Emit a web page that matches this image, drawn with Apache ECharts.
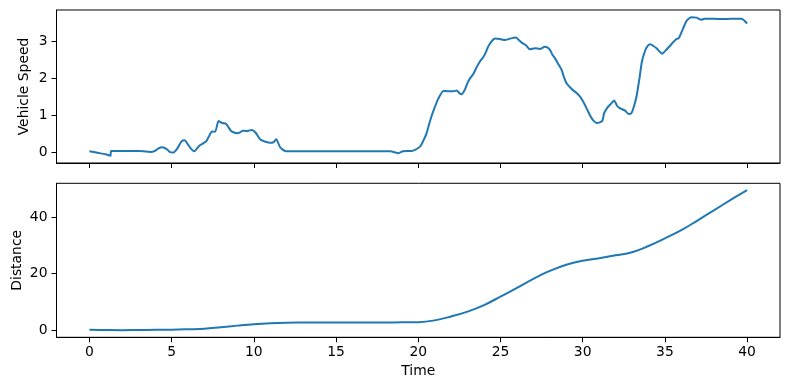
<!DOCTYPE html>
<html><head><meta charset="utf-8">
<script src="https://cdn.jsdelivr.net/npm/echarts@6/dist/echarts.min.js"></script>
<style>html,body{margin:0;padding:0;background:#fff}#c{width:790px;height:390px}</style>
</head><body><div id="c"></div>
<script>
const speedTime = [0,0.5,1.0,1.28,1.32,2.0,3.0,3.3,3.7,4.0,4.2,4.45,4.7,4.9,5.12,5.35,5.6,5.79,6.0,6.2,6.4,6.55,6.74,6.9,7.1,7.3,7.45,7.65,7.85,8.06,8.3,8.45,8.6,8.8,8.97,9.15,9.34,9.5,9.68,9.88,10.1,10.39,10.7,11.0,11.2,11.36,11.6,11.9,12.5,15,18.3,18.8,19.06,19.6,19.8,20.0,20.15,20.3,20.5,20.72,20.95,21.22,21.53,21.8,22.13,22.34,22.5,22.64,22.84,23.0,23.15,23.35,23.55,23.75,23.96,24.1,24.26,24.45,24.67,24.97,25.27,25.58,25.94,26.1,26.29,26.55,26.79,27.1,27.4,27.7,27.85,28.0,28.15,28.31,28.5,28.72,28.85,29.02,29.33,29.63,29.85,30.03,30.2,30.33,30.5,30.64,30.84,31.0,31.2,31.3,31.49,31.7,31.91,32.1,32.26,32.56,32.81,32.95,33.07,33.27,33.47,33.6,33.78,33.95,34.12,34.3,34.49,34.65,34.83,35.05,35.3,35.5,35.7,35.84,36.1,36.31,36.5,36.62,36.92,37.22,37.42,38,38.5,39,39.65,40.0];
const speedValues = [0.02,-0.02,-0.06,-0.1,0.03,0.03,0.03,0.02,0.0,0.03,0.1,0.13,0.08,0.0,-0.01,0.1,0.29,0.32,0.2,0.08,0.02,0.1,0.19,0.23,0.29,0.45,0.56,0.55,0.84,0.79,0.77,0.68,0.58,0.53,0.51,0.53,0.58,0.57,0.58,0.6,0.53,0.34,0.28,0.25,0.27,0.35,0.13,0.03,0.02,0.02,0.02,-0.03,0.02,0.03,0.06,0.11,0.17,0.3,0.5,0.85,1.15,1.45,1.66,1.65,1.65,1.67,1.6,1.57,1.7,1.88,2.0,2.12,2.3,2.46,2.58,2.7,2.87,3.0,3.08,3.07,3.04,3.08,3.11,3.05,2.97,2.9,2.79,2.82,2.8,2.86,2.84,2.78,2.65,2.55,2.4,2.23,2.05,1.87,1.71,1.6,1.5,1.37,1.22,1.1,0.95,0.86,0.79,0.8,0.85,1.05,1.2,1.3,1.4,1.25,1.19,1.13,1.03,1.05,1.17,1.5,2.05,2.45,2.73,2.88,2.93,2.88,2.82,2.74,2.67,2.76,2.88,2.98,3.07,3.09,3.35,3.56,3.64,3.66,3.65,3.59,3.62,3.62,3.61,3.62,3.62,3.49];
const distTime = [0,1,2,3,4,5,6,7,8,9,10,11,12,13,14,15,16,17,18,19,20,21,22,23,24,25,26,27,28,29,30,31,32,33,34,35,36,37,38,39,40];
const distValues = [0.2,0.1,0.05,0.1,0.15,0.2,0.35,0.55,1.1,1.65,2.15,2.5,2.7,2.75,2.78,2.78,2.78,2.78,2.78,2.8,2.85,3.5,4.9,6.6,8.9,11.9,15.0,18.2,21.0,23.2,24.6,25.5,26.5,27.6,29.8,32.5,35.4,38.9,42.5,46.1,49.6];
const timeTicks = [0,5,10,15,20,25,30,35,40];
const speedTicks = [0,1,2,3];
const distTicks = [0,20,40];

const font = 'DejaVu Sans';
const fs = 13.9;
function xAxis(idx, showLabels, name) {
  return {
    type: 'value', gridIndex: idx, min: -2, max: 42,
    axisLine: {show: true, onZero: false, lineStyle: {color: '#000', width: 1}},
    splitLine: {show: false},
    axisTick: {show: true, length: 5, customValues: timeTicks, lineStyle: {color: '#000', width: 1}},
    axisLabel: {show: showLabels, customValues: timeTicks, margin: 8, color: '#000', fontFamily: font, fontSize: fs},
    name: name || '', nameLocation: 'middle', nameGap: 27, nameMoveOverlap: false,
    nameTextStyle: {color: '#000', fontFamily: font, fontSize: fs}
  };
}
function yAxis(idx, min, max, ticks, name, gap) {
  return {
    type: 'value', gridIndex: idx, min: min, max: max,
    axisLine: {show: true, onZero: false, lineStyle: {color: '#000', width: 1}},
    splitLine: {show: false},
    axisTick: {show: true, length: 5, customValues: ticks, lineStyle: {color: '#000', width: 1}},
    axisLabel: {customValues: ticks, margin: 9, color: '#000', fontFamily: font, fontSize: fs},
    name: name, nameLocation: 'middle', nameGap: gap, nameMoveOverlap: false,
    nameTextStyle: {color: '#000', fontFamily: font, fontSize: fs}
  };
}
const chart = echarts.init(document.getElementById('c'), null, {renderer: 'canvas'});
chart.setOption({
  animation: false,
  grid: [
    {left: 56.5, top: 10, width: 723.5, height: 153, show: true, borderColor: '#000', borderWidth: 1, backgroundColor: 'transparent'},
    {left: 56.5, top: 183.3, width: 723.5, height: 154, show: true, borderColor: '#000', borderWidth: 1, backgroundColor: 'transparent'}
  ],
  xAxis: [xAxis(0, false), xAxis(1, true, 'Time')],
  yAxis: [yAxis(0, -0.298, 3.857, speedTicks, 'Vehicle Speed', 25), yAxis(1, -2.48, 51.98, distTicks, 'Distance', 32.5)],
  series: [
    {type: 'line', xAxisIndex: 0, yAxisIndex: 0, data: speedTime.map((t, i) => [t, speedValues[i]]), showSymbol: false, lineStyle: {color: '#1f77b4', width: 2}, smooth: 0.2},
    {type: 'line', xAxisIndex: 1, yAxisIndex: 1, data: distTime.map((t, i) => [t, distValues[i]]), showSymbol: false, lineStyle: {color: '#1f77b4', width: 2}, smooth: 0.4}
  ]
});
</script></body></html>
